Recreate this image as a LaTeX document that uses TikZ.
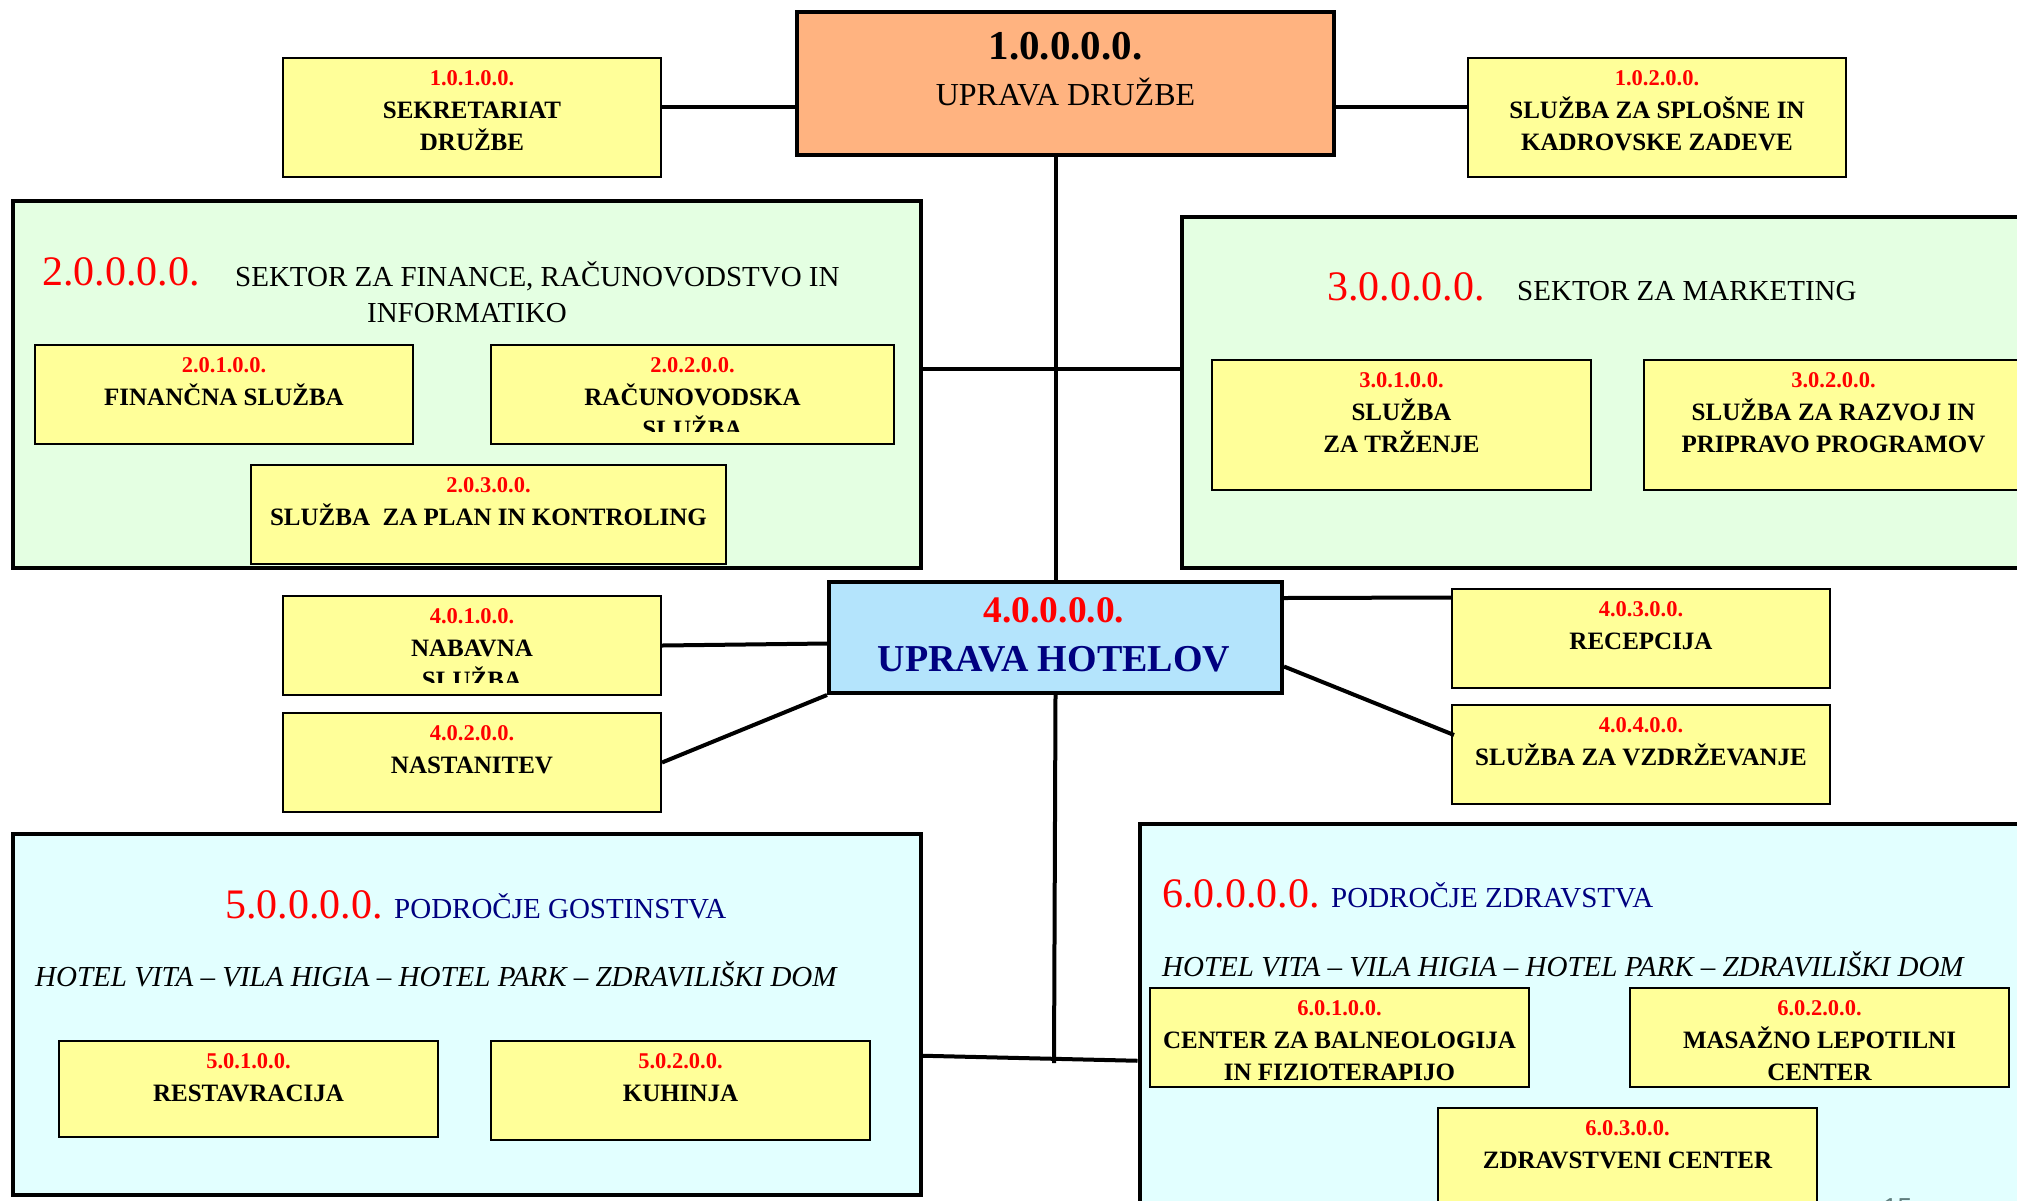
\documentclass[tikz,border=0pt]{standalone}
\usepackage{fontspec}
\setmainfont{Liberation Serif}
\newfontfamily\pnumfont{Liberation Sans}
\usetikzlibrary{calc}
\definecolor{ylw}{RGB}{255,255,153}
\definecolor{grn}{RGB}{228,255,226}
\definecolor{cyn}{RGB}{226,255,255}
\definecolor{org}{RGB}{255,179,128}
\definecolor{lblue}{RGB}{180,228,252}
\definecolor{navyc}{RGB}{0,0,128}
\definecolor{pgray}{RGB}{95,125,125}
\tikzset{
 ybx/.style={draw, line width=2pt, fill=ylw, inner sep=0pt},
 bigbx/.style={draw, line width=4.5pt, inner sep=0pt},
 codetxt/.style={text=red, font=\fontsize{22.5}{26}\selectfont\bfseries, inner sep=0pt},
 boxtxt/.style={font=\fontsize{25}{30}\selectfont\bfseries, inner sep=0pt},
 conn/.style={line width=4pt},
 seccode/.style={text=red, font=\fontsize{42}{48}\selectfont, inner sep=0pt},
 sectxt/.style={font=\fontsize{29}{34}\selectfont, inner sep=0pt},
 hotels/.style={font=\fontsize{29}{34}\selectfont\itshape, inner sep=0pt},
}
\newcommand\yboxone[7]{%
 \node[ybx, minimum width=#4pt, minimum height=#5pt, anchor=north] (#1) at (#2,#3) {};
 \node[codetxt, anchor=base] (#1c) at ($(#1.north)+(0,28.7)$) {#6};
 \node[boxtxt, anchor=base] (#1a) at ($(#1.north)+(0,61.3)$) {#7};
}
\newcommand\yboxtwo[8]{%
 \yboxone{#1}{#2}{#3}{#4}{#5}{#6}{#7}%
 \node[boxtxt, anchor=base] (#1b) at ($(#1.north)+(0,93.5)$) {#8};
}
\begin{document}
\begin{tikzpicture}[x=1pt,y=-1pt]
\useasboundingbox (0,0) rectangle (2017,1200);
\fill[white] (0,0) rectangle (2017,1200);

% big boxes
\node[bigbx, fill=org, minimum width=537pt, minimum height=143pt, anchor=north west] (n10) at (794.5,9.5) {};
\node[font=\fontsize{41}{46}\selectfont\bfseries, anchor=base, inner sep=0pt] (n10c) at (1065.5,59) {1.0.0.0.0.};
\node[font=\fontsize{32}{38}\selectfont, anchor=base, inner sep=0pt] (n10t) at (1065.5,105) {UPRAVA DRUŽBE};

\node[bigbx, fill=grn, minimum width=908pt, minimum height=367pt, anchor=north west] (s2) at (10.5,198.5) {};
\node[seccode, anchor=base west] (s2c) at (42,285) {2.0.0.0.0.};
\node[sectxt, anchor=base west] (s2a) at (235,286) {SEKTOR ZA FINANCE, RAČUNOVODSTVO IN};
\node[sectxt, anchor=base] (s2b) at (467,322) {INFORMATIKO};

\node[bigbx, fill=grn, minimum width=880pt, minimum height=351pt, anchor=north west] (s3) at (1179.5,214.5) {};
\node[seccode, anchor=base west] (s3c) at (1327,300) {3.0.0.0.0.};
\node[sectxt, anchor=base west] (s3a) at (1517,300) {SEKTOR ZA MARKETING};

\node[bigbx, line width=4pt, fill=lblue, minimum width=453pt, minimum height=111pt, anchor=north west] (n40) at (827,580) {};
\node[font=\fontsize{37.5}{42}\selectfont\bfseries, text=red, anchor=base, inner sep=0pt] (n40c) at (1054,622) {4.0.0.0.0.};
\node[font=\fontsize{38}{44}\selectfont\bfseries, text=navyc, anchor=base, inner sep=0pt] (n40t) at (1054,671) {UPRAVA HOTELOV};

\node[bigbx, fill=cyn, minimum width=908pt, minimum height=361pt, anchor=north west] (s5) at (10.5,831.5) {};
\node[seccode, anchor=base west] (s5c) at (225,918) {5.0.0.0.0.};
\node[sectxt, text=navyc, anchor=base west] (s5a) at (394,918) {PODROČJE GOSTINSTVA};
\node[hotels, anchor=base west] (s5h) at (35,986.5) {HOTEL VITA – VILA HIGIA – HOTEL PARK – ZDRAVILIŠKI DOM};

\node[bigbx, fill=cyn, minimum width=920pt, minimum height=420pt, anchor=north west] (s6) at (1137.5,821.5) {};
\node[seccode, anchor=base west] (s6c) at (1162,907) {6.0.0.0.0.};
\node[sectxt, text=navyc, anchor=base west] (s6a) at (1331,907) {PODROČJE ZDRAVSTVA};
\node[hotels, anchor=base west] (s6h) at (1162,976) {HOTEL VITA – VILA HIGIA – HOTEL PARK – ZDRAVILIŠKI DOM};

% small boxes
\yboxtwo{n101}{472}{57}{378}{119}{1.0.1.0.0.}{SEKRETARIAT}{DRUŽBE}
\yboxtwo{n102}{1657}{57}{378}{119}{1.0.2.0.0.}{SLUŽBA ZA SPLOŠNE IN}{KADROVSKE ZADEVE}
\yboxone{n201}{224}{344}{378}{99}{2.0.1.0.0.}{FINANČNA SLUŽBA}
\yboxone{n202}{692.5}{344}{403}{99}{2.0.2.0.0.}{RAČUNOVODSKA}
\begin{scope}
 \clip (491,344) rectangle (894,431);
 \node[boxtxt, anchor=base] (n202b) at ($(n202.north)+(0,93.5)$) {SLUŽBA};
\end{scope}
\yboxone{n203}{488.5}{464}{475}{99}{2.0.3.0.0.}{SLUŽBA\ \ ZA PLAN IN KONTROLING}
\yboxtwo{n301}{1401.5}{359}{379}{130}{3.0.1.0.0.}{SLUŽBA}{ZA TRŽENJE}
\yboxtwo{n302}{1833.5}{359}{379}{130}{3.0.2.0.0.}{SLUŽBA ZA RAZVOJ IN}{PRIPRAVO PROGRAMOV}
\yboxone{n401}{472}{595}{378}{99}{4.0.1.0.0.}{NABAVNA}
\begin{scope}
 \clip (283,595) rectangle (661,682);
 \node[boxtxt, anchor=base] (n401b) at ($(n401.north)+(0,93.5)$) {SLUŽBA};
\end{scope}
\yboxone{n402}{472}{712}{378}{99}{4.0.2.0.0.}{NASTANITEV}
\yboxone{n403}{1641}{588}{378}{99}{4.0.3.0.0.}{RECEPCIJA}
\yboxone{n404}{1641}{704}{378}{99}{4.0.4.0.0.}{SLUŽBA ZA VZDRŽEVANJE}
\yboxone{n501}{248.5}{1040}{379}{96}{5.0.1.0.0.}{RESTAVRACIJA}
\yboxone{n502}{680.5}{1040}{379}{99}{5.0.2.0.0.}{KUHINJA}
\yboxtwo{n601}{1339.5}{987}{379}{99}{6.0.1.0.0.}{CENTER ZA BALNEOLOGIJA}{IN FIZIOTERAPIJO}
\yboxtwo{n602}{1819.5}{987}{379}{99}{6.0.2.0.0.}{MASAŽNO LEPOTILNI}{CENTER}
\yboxone{n603}{1627.5}{1107}{379}{99}{6.0.3.0.0.}{ZDRAVSTVENI CENTER}

\node[font=\fontsize{26}{30}\selectfont\pnumfont, text=pgray, anchor=base west, inner sep=0pt] (pnum) at (1883,1216) {15};

% connectors
\coordinate (j23) at (1054,369);
\coordinate (tend) at (1054,1063);
\draw[conn] (n10.south -| n40.north) -- (n40.north);
\draw[conn] (n40.south) -- (tend);
\draw[conn] ($(n101.east)+(0,-10.5)$) -- (n10.west |- {$(n101.east)+(0,-10.5)$});
\draw[conn] ($(n102.west)+(0,-10.5)$) -- (n10.east |- {$(n102.west)+(0,-10.5)$});
\draw[conn] (s2.east |- j23) -- (s3.west |- j23);
\draw[conn] (n401.east) -- ($(n40.west)+(0,6)$);
\draw[conn] (n402.east) -- (n40.south west);
\draw[conn] ($(n40.north east)+(0,18)$) -- ($(n403.north west)+(0,9.5)$);
\draw[conn] ($(n40.east)+(0,29)$) -- ($(n404.west)+(3,-19.5)$);
\draw[conn] ($(s5.east)+(0,41.5)$) -- ($(s6.west)+(0,27)$);
\end{tikzpicture}
\end{document}
